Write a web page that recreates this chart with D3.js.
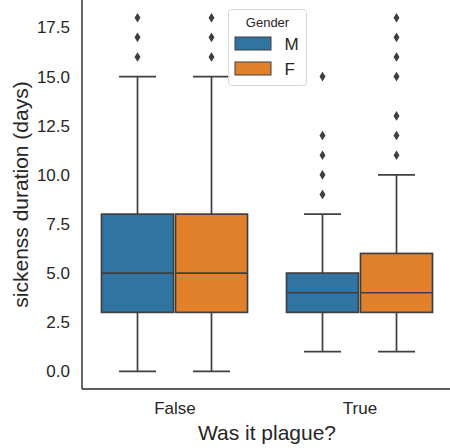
<!DOCTYPE html>
<html lang="en">
<head>
<meta charset="UTF-8">
<title>Sickness duration boxplot</title>
<style>
  body { margin: 0; background: #fff; }
  svg { font-family: "Liberation Sans", Arial, sans-serif; }
</style>
</head>
<body>
<svg id="chart" width="450" height="448"></svg>
<script src="https://cdn.jsdelivr.net/npm/d3@7/dist/d3.min.js"></script>
<script>
// categories and hue groups
const categories = ["False", "True"];
const genders = ["M", "F"];
const genderColors = ["#3274a1", "#e1812c"];

// five-number summaries per category/gender: [whisker low, q1, median, q3, whisker high]
const statsFalseM = [0, 3, 5, 8, 15];
const statsFalseF = [0, 3, 5, 8, 15];
const statsTrueM = [1, 3, 4, 5, 8];
const statsTrueF = [1, 3, 4, 6, 10];

// outliers
const fliersFalseM = [16, 17, 18];
const fliersFalseF = [16, 17, 18];
const fliersTrueM = [9, 10, 11, 12, 15];
const fliersTrueF = [11, 12, 13, 15, 16, 17, 18];

const yTicks = [0, 2.5, 5, 7.5, 10, 12.5, 15, 17.5];

const boxes = [
  { cat: "False", g: 0, s: statsFalseM, f: fliersFalseM },
  { cat: "False", g: 1, s: statsFalseF, f: fliersFalseF },
  { cat: "True", g: 0, s: statsTrueM, f: fliersTrueM },
  { cat: "True", g: 1, s: statsTrueF, f: fliersTrueF }
];

const margin = { left: 82, top: 0 };
const plotW = 370, plotH = 389;
const lineCol = "#3f3f3f";
const font = "'Liberation Sans', Arial, sans-serif";

const svg = d3.select("#chart");
const g = svg.append("g").attr("transform", "translate(" + margin.left + "," + margin.top + ")");

// x: category positions -0.5 .. 1.5 like seaborn
const x = d3.scaleLinear().domain([-0.5, 1.5]).range([0, plotW]);
const y = d3.scaleLinear().domain([-0.9, 18.9]).range([plotH, 0]);
const boxW = x(0.4) - x(0); // each hue box gets 0.4 of the category width

function centerOf(b) {
  return x(categories.indexOf(b.cat) + (b.g === 0 ? -0.2 : 0.2));
}

// whiskers
boxes.forEach(function (b) {
  const cx = centerOf(b);
  const bg = g.append("g").attr("stroke", lineCol).attr("stroke-width", 1.7);
  bg.append("line").attr("x1", cx).attr("x2", cx).attr("y1", y(b.s[0])).attr("y2", y(b.s[1]));
  bg.append("line").attr("x1", cx).attr("x2", cx).attr("y1", y(b.s[3])).attr("y2", y(b.s[4]));
  bg.append("line").attr("x1", cx - boxW / 4).attr("x2", cx + boxW / 4).attr("y1", y(b.s[0])).attr("y2", y(b.s[0]));
  bg.append("line").attr("x1", cx - boxW / 4).attr("x2", cx + boxW / 4).attr("y1", y(b.s[4])).attr("y2", y(b.s[4]));
});

// boxes
g.selectAll("rect.box")
  .data(boxes)
  .enter()
  .append("rect")
  .attr("class", "box")
  .attr("x", function (d) { return centerOf(d) - boxW / 2 + 1; })
  .attr("width", boxW - 2)
  .attr("y", function (d) { return y(d.s[3]); })
  .attr("height", function (d) { return y(d.s[1]) - y(d.s[3]); })
  .attr("fill", function (d) { return genderColors[d.g]; })
  .attr("stroke", lineCol)
  .attr("stroke-width", 1.7);

// medians
g.selectAll("line.median")
  .data(boxes)
  .enter()
  .append("line")
  .attr("class", "median")
  .attr("x1", function (d) { return centerOf(d) - boxW / 2 + 1; })
  .attr("x2", function (d) { return centerOf(d) + boxW / 2 - 1; })
  .attr("y1", function (d) { return y(d.s[2]); })
  .attr("y2", function (d) { return y(d.s[2]); })
  .attr("stroke", lineCol)
  .attr("stroke-width", 1.7);

// fliers as thin diamonds
const fliers = [];
boxes.forEach(function (b) {
  b.f.forEach(function (v) { fliers.push({ cx: centerOf(b), v: v }); });
});
g.selectAll("path.flier")
  .data(fliers)
  .enter()
  .append("path")
  .attr("class", "flier")
  .attr("d", "M0,-4.8L3,0L0,4.8L-3,0Z")
  .attr("transform", function (d) { return "translate(" + d.cx + "," + y(d.v) + ")"; })
  .attr("fill", lineCol);

// y axis
const yAxis = g.append("g")
  .call(d3.axisLeft(y).tickValues(yTicks).tickFormat(d3.format(".1f")).tickSize(0).tickPadding(12));
yAxis.select(".domain").remove();
yAxis.selectAll("text").attr("font-size", 17).attr("fill", "#262626").style("font-family", font);

// x axis
const xAxis = g.append("g")
  .attr("transform", "translate(0," + plotH + ")")
  .call(d3.axisBottom(x).tickValues([0, 1]).tickFormat(function (d) { return categories[d]; }).tickSize(0).tickPadding(13));
xAxis.select(".domain").remove();
xAxis.selectAll("text").attr("font-size", 17).attr("fill", "#262626").style("font-family", font);

// spines (left and bottom only)
g.append("line").attr("x1", 0).attr("x2", 0).attr("y1", 0).attr("y2", plotH)
  .attr("stroke", "#262626").attr("stroke-width", 1.4);
g.append("line").attr("x1", 0).attr("x2", plotW).attr("y1", plotH).attr("y2", plotH)
  .attr("stroke", "#262626").attr("stroke-width", 1.4);

// axis labels
svg.append("text")
  .attr("transform", "translate(28," + (margin.top + plotH / 2) + ") rotate(-90)")
  .attr("text-anchor", "middle")
  .attr("font-size", 21)
  .attr("fill", "#262626")
  .text("sickenss duration (days)");

svg.append("text")
  .attr("x", margin.left + x(0.5))
  .attr("y", 440)
  .attr("text-anchor", "middle")
  .attr("font-size", 21)
  .attr("fill", "#262626")
  .text("Was it plague?");

// legend
const lg = svg.append("g").attr("transform", "translate(228.5,9.5)");
lg.append("rect")
  .attr("width", 78).attr("height", 76).attr("rx", 3)
  .attr("fill", "#fff").attr("fill-opacity", 0.8)
  .attr("stroke", "#d6d6d6").attr("stroke-width", 1);
lg.append("text")
  .attr("x", 39).attr("y", 17)
  .attr("text-anchor", "middle")
  .attr("font-size", 13)
  .attr("fill", "#262626")
  .text("Gender");
genders.forEach(function (name, i) {
  lg.append("rect")
    .attr("x", 6.5).attr("y", 27.5 + i * 25)
    .attr("width", 36).attr("height", 13)
    .attr("fill", genderColors[i])
    .attr("stroke", lineCol).attr("stroke-width", 1);
  lg.append("text")
    .attr("x", 56).attr("y", 40.5 + i * 25)
    .attr("font-size", 17)
    .attr("fill", "#262626")
    .text(name);
});
</script>
</body>
</html>
